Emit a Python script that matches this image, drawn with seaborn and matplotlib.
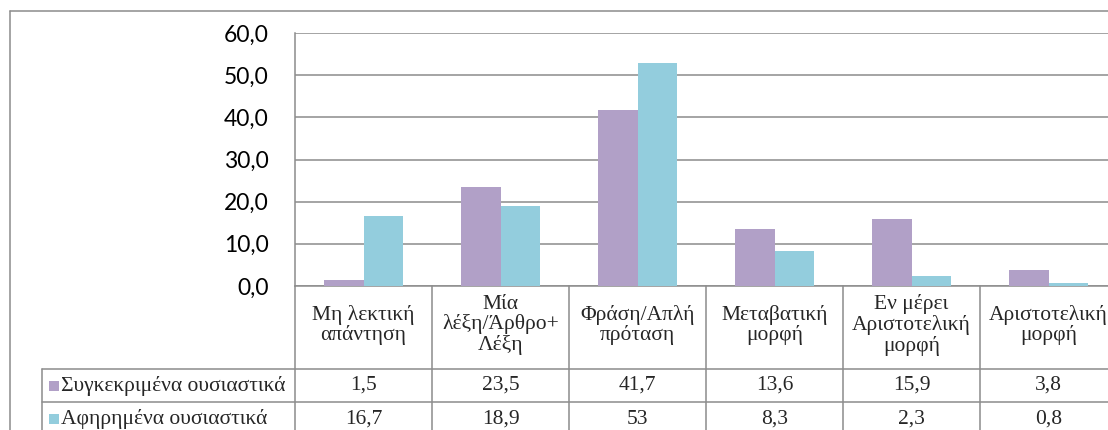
import pandas as pd
import numpy as np
import matplotlib
matplotlib.use("Agg")
import matplotlib.pyplot as plt
import matplotlib.transforms as mtransforms
from matplotlib.lines import Line2D
from matplotlib.patches import Rectangle
import seaborn as sns

# --- DATA ---
categories = [
    "Μη λεκτική\nαπάντηση",
    "Μία\nλέξη/Άρθρο+\nΛέξη",
    "Φράση/Απλή\nπρόταση",
    "Μεταβατική\nμορφή",
    "Εν μέρει\nΑριστοτελική\nμορφή",
    "Αριστοτελική\nμορφή",
]
series_names = ["Συγκεκριμένα ουσιαστικά", "Αφηρημένα ουσιαστικά"]
concrete_vals = [1.5, 23.5, 41.7, 13.6, 15.9, 3.8]
abstract_vals = [16.7, 18.9, 53, 8.3, 2.3, 0.8]
y_ticks = [0, 10, 20, 30, 40, 50, 60]

PURPLE = "#B1A0C7"
CYAN = "#93CDDD"
GRID = "#8C8C8C"

W, H = 1108, 430

df = pd.DataFrame({
    "cat": categories * 2,
    "value": concrete_vals + abstract_vals,
    "series": [series_names[0]] * 6 + [series_names[1]] * 6,
})

sns.set_style("white")
plt.rcParams["font.family"] = ["Lato", "DejaVu Sans"]

fig = plt.figure(figsize=(W / 100, H / 100), dpi=100)

def fy(px):
    return 1 - px / H

def fx(px):
    return px / W

# plot area in pixels: left 295, top 33, bottom 286, 137 px per category
ax = fig.add_axes([fx(295), fy(286), (137 * 6) / W, (286 - 33) / H])

sns.barplot(data=df, x="cat", y="value", hue="series", order=categories,
            hue_order=series_names, palette=[PURPLE, CYAN], width=0.57, gap=0,
            saturation=1, legend=False, ax=ax, linewidth=0, zorder=3)

ax.set_xlim(-0.5, 5.5)
ax.set_ylim(0, 60)
ax.set_yticks(y_ticks)
ax.set_yticklabels([f"{t:.1f}".replace(".", ",") for t in y_ticks])
ax.tick_params(axis="y", length=0, pad=19, labelsize=16.5, labelcolor="black")
ax.tick_params(axis="x", length=0, labelbottom=False)
ax.set_xlabel("")
ax.set_ylabel("")
ax.yaxis.grid(True, color=GRID, linewidth=1.1, zorder=0)
ax.set_axisbelow(True)
for side in ["top", "right"]:
    ax.spines[side].set_visible(False)
for side in ["left", "bottom"]:
    ax.spines[side].set_color(GRID)
    ax.spines[side].set_linewidth(1.1)

# --- outer chart border ---
fig.add_artist(Line2D([fx(10), 1.0], [fy(11), fy(11)], transform=fig.transFigure,
                      color=GRID, linewidth=1.1))
fig.add_artist(Line2D([fx(10), fx(10)], [fy(11), 0.0], transform=fig.transFigure,
                      color=GRID, linewidth=1.1))

# --- data table under the axis ---
blend = mtransforms.blended_transform_factory(ax.transData, fig.transFigure)
for b in np.arange(-0.5, 6.0, 1.0):
    fig.add_artist(Line2D([b, b], [fy(286), 0.0], transform=blend,
                          color=GRID, linewidth=1.1))
for yline in [369, 402]:
    fig.add_artist(Line2D([fx(42), 1.0], [fy(yline), fy(yline)],
                          transform=fig.transFigure, color=GRID, linewidth=1.1))
fig.add_artist(Line2D([fx(42), fx(42)], [fy(369), 0.0], transform=fig.transFigure,
                      color=GRID, linewidth=1.1))

serif = ["Liberation Serif", "DejaVu Serif"]
FS = 15.5
for i, cat in enumerate(categories):
    ax.text(i, fy(325), cat, transform=blend, ha="center", va="center",
            multialignment="center", family=serif, fontsize=FS, linespacing=1.05)

row_y = [385.5, 419]
for r, (name, vals, col) in enumerate(zip(series_names,
                                           [concrete_vals, abstract_vals],
                                           [PURPLE, CYAN])):
    yc = row_y[r]
    fig.add_artist(Rectangle((fx(49), fy(yc + 5)), fx(10), 10 / H,
                             transform=fig.transFigure, facecolor=col,
                             edgecolor="none"))
    fig.text(fx(61), fy(yc), name, ha="left", va="center", family=serif,
             fontsize=FS)
    for i, v in enumerate(vals):
        ax.text(i, fy(yc), f"{v:g}".replace(".", ","), transform=blend,
                ha="center", va="center", family=serif, fontsize=FS)

fig.savefig("out.png", dpi=100)
